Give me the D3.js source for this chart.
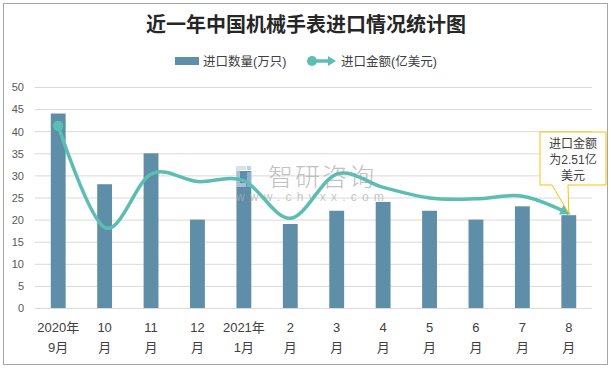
<!DOCTYPE html>
<html><head><meta charset="utf-8">
<script src="https://cdn.jsdelivr.net/npm/d3@7"></script>
<style>
body{margin:0;background:#fff;}
svg{display:block;}
text{font-family:"Liberation Sans","Noto Sans CJK SC",sans-serif;}
</style></head>
<body>
<svg id="chart" width="611" height="369"></svg>
<script>
const categories = ["2020年|9月","10|月","11|月","12|月","2021年|1月","2|月","3|月","4|月","5|月","6|月","7|月","8|月"];
const quantity = [44, 28, 35, 20, 31, 19, 22, 24, 22, 20, 23, 21];
const amount = [41.2, 18.2, 30.3, 28.6, 28.8, 20.3, 30.3, 27.3, 24.9, 24.7, 25.3, 21.4];
const yTicks = [0,5,10,15,20,25,30,35,40,45,50];
const title = "近一年中国机械手表进口情况统计图";
const legendNames = ["进口数量(万只)","进口金额(亿美元)"];
const noteLines = ["进口金额","为2.51亿","美元"];

const svg = d3.select("#chart");
const barColor = "#5e8ea8", lineColor = "#5cbdb3";

svg.append("rect").attr("x",3.5).attr("y",3.5).attr("width",604).attr("height",361)
  .attr("fill","#fff").attr("stroke","#a6a6a6").attr("stroke-width",1);

const x = d3.scaleBand().domain(d3.range(categories.length)).range([35,592]).paddingInner(0.68).paddingOuter(0.34);
const y = d3.scaleLinear().domain([0,50]).range([308,87]);

svg.append("g").selectAll("line").data(yTicks.filter(d=>d>0)).join("line")
  .attr("x1",35).attr("x2",592).attr("y1",d=>y(d)+0.5).attr("y2",d=>y(d)+0.5)
  .attr("stroke","#d9d9d9").attr("stroke-width",1);

const yAxis = d3.axisLeft(y).tickValues(yTicks).tickSize(0).tickPadding(0);
const ya = svg.append("g").attr("transform","translate(24,0)").call(yAxis);
ya.select(".domain").remove();
ya.selectAll("text").attr("fill","#595959").attr("font-size",11).attr("dy","0.35em");

svg.append("g").selectAll("rect").data(quantity).join("rect")
  .attr("x",(d,i)=>x(i)).attr("width",x.bandwidth())
  .attr("y",d=>y(d)).attr("height",d=>y(0)-y(d))
  .attr("fill",barColor);

svg.append("line").attr("x1",35).attr("x2",592).attr("y1",308.5).attr("y2",308.5).attr("stroke","#d9d9d9");
const xAxis = d3.axisBottom(x).tickSize(0).tickFormat(()=>"");
const xa = svg.append("g").attr("transform","translate(0,308)").call(xAxis);
xa.select(".domain").remove();
xa.selectAll(".tick").each(function(d){
  const parts = categories[d].split("|");
  const t = d3.select(this).append("text").attr("fill","#404040").attr("font-size",13).attr("text-anchor","middle");
  t.append("tspan").attr("x",0).attr("y",24).text(parts[0]);
  t.append("tspan").attr("x",0).attr("y",44).text(parts[1]);
});

// watermark
const wm = svg.append("g").attr("opacity",0.7);
wm.append("path").attr("d","M236,166h10v4h-6v13h6v4h-10z").attr("fill","#c5d6ea");
wm.append("rect").attr("x",247).attr("y",166).attr("width",4).attr("height",4).attr("fill","#9cc0e6");
wm.append("rect").attr("x",247).attr("y",172).attr("width",4).attr("height",15).attr("fill","#9cc0e6");
wm.append("text").attr("x",268).attr("y",186).attr("font-size",25).attr("fill","#a8a8a8")
  .attr("font-family","Noto Sans CJK SC").attr("font-weight",300).attr("letter-spacing",2).text("智研咨询");
wm.append("text").attr("x",236).attr("y",201).attr("font-size",12).attr("fill","#b0b0b0")
  .attr("letter-spacing",5.2).text("www.chyxx.com");

const defs = svg.append("defs");
defs.append("marker").attr("id","arrow").attr("viewBox","0 0 10 10").attr("refX",8).attr("refY",5)
  .attr("markerWidth",3).attr("markerHeight",3).attr("orient","auto")
  .append("path").attr("d","M0,0L10,5L0,10z").attr("fill",lineColor);
defs.append("marker").attr("id","dot").attr("viewBox","0 0 10 10").attr("refX",5).attr("refY",5)
  .attr("markerWidth",3).attr("markerHeight",3)
  .append("circle").attr("cx",5).attr("cy",5).attr("r",5).attr("fill",lineColor);

const line = d3.line().x((d,i)=>x(i)+x.bandwidth()/2).y(d=>y(d)).curve(d3.curveCardinal.tension(0));
svg.append("path").datum(amount).attr("d",line).attr("fill","none")
  .attr("stroke",lineColor).attr("stroke-width",3.5)
  .attr("marker-start","url(#dot)").attr("marker-end","url(#arrow)");

svg.append("text").attr("x",306).attr("y",32).attr("text-anchor","middle").attr("font-size",20)
  .attr("font-weight","bold").attr("fill","#262626").attr("font-family","Noto Sans CJK SC").text(title);

const lg = svg.append("g");
lg.append("rect").attr("x",175).attr("y",57).attr("width",24).attr("height",8).attr("fill",barColor);
lg.append("text").attr("x",203).attr("y",65.5).attr("font-size",12.5).attr("fill","#404040").attr("font-family","Noto Sans CJK SC").text(legendNames[0]);
lg.append("line").attr("x1",312).attr("x2",330).attr("y1",61).attr("y2",61).attr("stroke",lineColor).attr("stroke-width",3.5);
lg.append("circle").attr("cx",312).attr("cy",61).attr("r",5).attr("fill",lineColor);
lg.append("path").attr("d","M328,56L336,61L328,66z").attr("fill",lineColor);
lg.append("text").attr("x",341).attr("y",65.5).attr("font-size",12.5).attr("fill","#404040").attr("font-family","Noto Sans CJK SC").text(legendNames[1]);

const last = amount.length-1;
const tipX = x(last)+x.bandwidth()/2, tipY = y(amount[last]);
svg.append("path")
  .attr("d",`M540,132H606V185H568L${tipX},${tipY}L552,185H540Z`)
  .attr("fill","#fff").attr("stroke","#ffc000").attr("stroke-width",1);
svg.append("g").selectAll("text").data(noteLines).join("text")
  .attr("x",573).attr("y",(d,i)=>148+i*16).attr("text-anchor","middle")
  .attr("font-size",12).attr("fill","#404040").attr("font-family","Noto Sans CJK SC").text(d=>d);
</script>
</body></html>
